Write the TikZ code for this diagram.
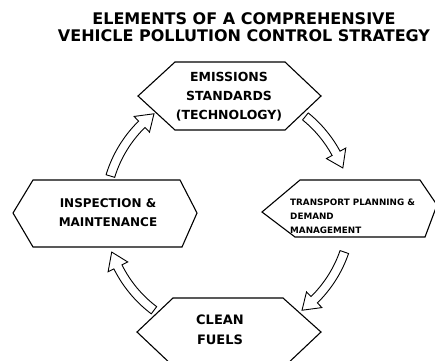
\documentclass[tikz,border=0pt]{standalone}
\usepackage{fontspec}
\setmainfont{DejaVu Sans}
\usetikzlibrary{calc}
\tikzset{
  hexstyle/.style={draw=black, line width=1.1pt, line join=miter},
  arrowstyle/.style={draw=black, fill=white, line width=0.9pt, line join=miter},
  titlestyle/.style={font=\bfseries\fontsize{16}{17}\selectfont, align=center, inner sep=0pt},
  labelstyle/.style={font=\bfseries\fontsize{12.5}{19}\selectfont, align=center, inner sep=0pt},
  smalllabel/.style={font=\bfseries\fontsize{8.8}{14}\selectfont, align=left, inner sep=0pt}
}
\newcommand\hollowarc[2]{%
  \pgfmathsetmacro\hb{#2-7.5}%
  \draw[arrowstyle] ([shift={(#1:127.5)}]cc) arc[start angle=#1, end angle=\hb, radius=127.5]
    -- ([shift={(\hb:134)}]cc) -- ([shift={(#2:123)}]cc) -- ([shift={(\hb:112)}]cc)
    -- ([shift={(\hb:118.5)}]cc) arc[start angle=\hb, end angle=#1, radius=118.5] -- cycle;}
\begin{document}
\begin{tikzpicture}[x=1pt, y=-1pt]
\useasboundingbox (0,0) rectangle (435,360);
\coordinate (cc) at (228,212);
% title
\node[titlestyle] (title) at (244,27) {ELEMENTS OF A COMPREHENSIVE\\VEHICLE POLLUTION CONTROL STRATEGY};
% hexagons
\draw[hexstyle] (138,96) -- (175,62) -- (285,62) -- (321,96) -- (285,130) -- (175,130) -- cycle;
\draw[hexstyle] (13,213) -- (33,180) -- (180,180) -- (197,213) -- (182,247) -- (33,247) -- cycle;
\draw[hexstyle] (262,212) -- (300,180) -- (420,180) -- (437,205) -- (425,237) -- (295,237) -- cycle;
\draw[hexstyle] (137,332) -- (173,298) -- (283,298) -- (321,332) -- (285,366) -- (173,366) -- cycle;
% labels
\node[labelstyle] (top) at (229,97) {EMISSIONS\\STANDARDS\\(TECHNOLOGY)};
\node[labelstyle, font=\bfseries\fontsize{12}{19}\selectfont] (left) at (108,213) {INSPECTION \&\\MAINTENANCE};
\node[smalllabel, anchor=west] (right) at (290,216) {TRANSPORT PLANNING \&\\DEMAND\\MANAGEMENT};
\node[labelstyle, font=\bfseries\fontsize{13}{20}\selectfont] (bottom) at (220,330) {CLEAN\\FUELS};
% hollow curved arrows
\hollowarc{-51}{-21}
\hollowarc{19}{53}
\hollowarc{127}{161}
\hollowarc{197}{233}
\end{tikzpicture}
\end{document}
